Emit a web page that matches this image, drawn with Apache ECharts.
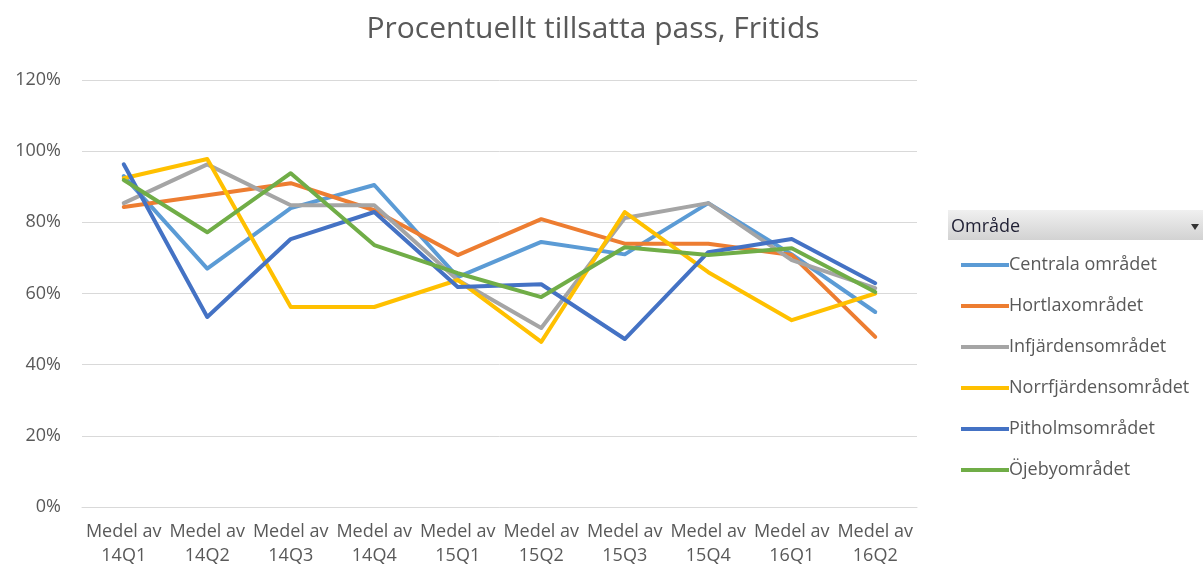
<!DOCTYPE html>
<html>
<head>
<meta charset="utf-8">
<script src="https://cdn.jsdelivr.net/npm/echarts@6/dist/echarts.min.js"></script>
<style>
  html, body { margin: 0; padding: 0; background: #fff; }
  #chart { width: 1203px; height: 570px; }
</style>
</head>
<body>
<div id="chart"></div>
<script>
const categories = ['14Q1', '14Q2', '14Q3', '14Q4', '15Q1', '15Q2', '15Q3', '15Q4', '16Q1', '16Q2'];
const yTicks = [0, 20, 40, 60, 80, 100, 120];

const centrala = [93, 67, 84, 90.5, 64.6, 74.5, 71, 85.4, 71, 54.8];
const hortlax = [84.3, 87.6, 91, 83.4, 70.8, 80.9, 74, 74, 70.8, 47.8];
const infjarden = [85.4, 96.3, 84.8, 84.8, 63.8, 50.3, 81.2, 85.4, 69.4, 61.5];
const norrfjarden = [92.4, 97.8, 56.2, 56.2, 63.8, 46.4, 82.9, 66, 52.5, 60];
const pitholm = [96.3, 53.4, 75.3, 82.9, 61.8, 62.6, 47.2, 71.6, 75.3, 62.9];
const ojeby = [91.9, 77.2, 93.8, 73.6, 65.7, 59, 73, 70.8, 72.7, 60.4];

const seriesNames = ['Centrala området', 'Hortlaxområdet', 'Infjärdensområdet', 'Norrfjärdensområdet', 'Pitholmsområdet', 'Öjebyområdet'];
const seriesData = [centrala, hortlax, infjarden, norrfjarden, pitholm, ojeby];
const colors = ['#5B9BD5', '#ED7D31', '#A5A5A5', '#FFC000', '#4472C4', '#70AD47'];

const font = '"Open Sans", "Noto Sans", sans-serif';
const chart = echarts.init(document.getElementById('chart'));

const option = {
  animation: false,
  color: colors,
  textStyle: { fontFamily: font },
  title: {
    text: 'Procentuellt tillsatta pass, Fritids',
    left: 588,
    top: 9,
    textAlign: 'center',
    textStyle: { fontSize: 30, fontWeight: 'normal', color: '#595959', fontFamily: font }
  },
  grid: { left: 82, right: 286, top: 80, bottom: 63 },
  legend: {
    orient: 'vertical',
    left: 956,
    top: 251,
    icon: 'rect',
    itemWidth: 48,
    itemHeight: 4,
    itemGap: 23,
    textStyle: { fontSize: 18, color: '#595959', padding: [0, 0, 0, -5] },
    data: seriesNames
  },
  graphic: [
    {
      type: 'rect',
      left: 948, top: 210,
      shape: { width: 255, height: 30 },
      style: {
        fill: new echarts.graphic.LinearGradient(0, 0, 0, 1, [
          { offset: 0, color: '#f0f0f0' },
          { offset: 1, color: '#d2d2d2' }
        ])
      }
    },
    {
      type: 'text',
      left: 951, top: 218,
      style: { text: 'Område', fontSize: 18, fill: '#1f1f33', fontFamily: font }
    },
    {
      type: 'polygon',
      shape: { points: [[1191, 224], [1199, 224], [1195, 230]] },
      style: { fill: '#333' }
    }
  ],
  xAxis: {
    type: 'category',
    data: categories,
    boundaryGap: true,
    axisLine: { lineStyle: { color: '#d9d9d9' } },
    axisTick: { show: false },
    axisLabel: {
      interval: 0,
      margin: 13,
      fontSize: 18,
      lineHeight: 24,
      color: '#595959',
      formatter: v => 'Medel av\n' + v
    }
  },
  yAxis: {
    type: 'value',
    min: yTicks[0],
    max: yTicks[yTicks.length - 1],
    interval: 20,
    axisLine: { show: false },
    axisTick: { show: false },
    splitLine: { lineStyle: { color: '#d9d9d9', width: 1 } },
    axisLabel: { fontSize: 18, color: '#595959', margin: 21, formatter: '{value}%' }
  },
  series: seriesNames.map((name, i) => ({
    name: name,
    type: 'line',
    data: seriesData[i],
    showSymbol: false,
    symbol: 'none',
    lineStyle: { width: 4, color: colors[i], cap: 'round', join: 'round' },
    itemStyle: { color: colors[i] }
  }))
};

chart.setOption(option);
</script>
</body>
</html>
